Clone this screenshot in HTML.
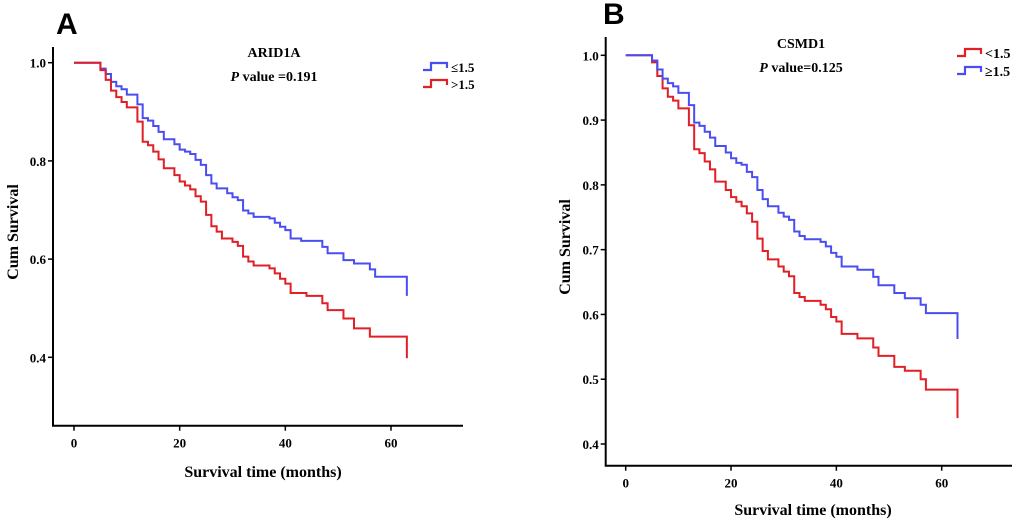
<!DOCTYPE html>
<html><head><meta charset="utf-8"><style>
body{margin:0;background:#fff;width:1020px;height:521px;overflow:hidden}
svg{display:block;font-family:"Liberation Serif",serif;font-weight:bold}
</style></head><body>
<svg id="chart" width="1020" height="521">
<text x="56" y="34" font-family="Liberation Sans" font-size="30" font-weight="bold">A</text>
<text x="603" y="24" font-family="Liberation Sans" font-size="30" font-weight="bold">B</text>
</svg>
<script>
const monthsA=[0,5,6,7,8,9,10,12,13,14,15,16,17,19,20,21,22,23,24,25,26,27,29,30,31,32,33,34,37,38,39,40,41,43,47,48,51,53,56,57,63];
const blueA=[1,0.988,0.977,0.961,0.952,0.946,0.935,0.915,0.887,0.882,0.871,0.859,0.844,0.834,0.823,0.819,0.814,0.802,0.792,0.771,0.754,0.744,0.734,0.726,0.72,0.699,0.693,0.686,0.683,0.674,0.666,0.659,0.642,0.637,0.625,0.612,0.598,0.591,0.579,0.564,0.525];
const monthsA2=[0,5,6,7,8,9,10,12,13,14,15,16,17,19,20,21,22,23,24,25,26,27,28,30,31,32,33,34,37,38,39,40,41,44,47,48,51,53,56,57,63];
const redA=[1,0.985,0.965,0.943,0.93,0.92,0.909,0.88,0.839,0.832,0.819,0.803,0.785,0.771,0.758,0.75,0.742,0.728,0.717,0.69,0.667,0.656,0.642,0.635,0.627,0.605,0.595,0.587,0.581,0.571,0.56,0.55,0.531,0.525,0.51,0.496,0.479,0.459,0.442,0.442,0.398];
const monthsB=[0,5,6,7,8,9,10,12,13,14,15,16,17,19,20,21,22,23,24,25,26,27,29,30,31,32,33,34,37,38,39,40,41,44,47,48,51,53,56,57,63];
const redB=[1,0.989,0.968,0.949,0.936,0.93,0.918,0.892,0.855,0.849,0.836,0.824,0.805,0.792,0.781,0.774,0.767,0.756,0.743,0.717,0.698,0.685,0.674,0.666,0.659,0.633,0.627,0.621,0.615,0.608,0.596,0.589,0.57,0.563,0.549,0.536,0.519,0.513,0.5,0.484,0.44];
const blueB=[1,0.992,0.978,0.964,0.957,0.952,0.942,0.923,0.896,0.891,0.882,0.873,0.86,0.85,0.841,0.834,0.831,0.82,0.812,0.792,0.778,0.767,0.757,0.751,0.746,0.728,0.721,0.716,0.712,0.705,0.695,0.689,0.674,0.669,0.658,0.645,0.633,0.625,0.615,0.602,0.562];
const xTicks=[0,20,40,60];
const yTicksA=[0.4,0.6,0.8,1.0];
const yTicksB=[0.4,0.5,0.6,0.7,0.8,0.9,1.0];
const NS="http://www.w3.org/2000/svg";
const svg=document.getElementById('chart');
function mk(tag,attrs,parent){const e=document.createElementNS(NS,tag);for(const k in attrs)e.setAttribute(k,attrs[k]);(parent||svg).appendChild(e);return e;}
function panel(p){
  const g=mk('g',{});
  
  
  const X=t=>p.x0+(t)*(p.x60-p.x0)/60;
  const Y=v=>p.y1+(1-v)*(p.yLow-p.y1)/(1-p.vLow);
  const ax=mk('path',{d:`M${p.ax},${p.top}V${p.base}H${p.right}`,stroke:'#000','stroke-width':2,fill:'none'},g);
  
  
  xTicks.forEach(t=>{mk('line',{x1:X(t),x2:X(t),y1:p.base,y2:p.base+5,stroke:'#000','stroke-width':1.5},g);
    const tx=mk('text',{x:X(t),y:p.base+22,'font-size':13,'text-anchor':'middle'},g);tx.textContent=t;
    
    });
  p.yt.forEach(v=>{mk('line',{x1:p.ax-5,x2:p.ax,y1:Y(v),y2:Y(v),stroke:'#000','stroke-width':1.5},g);
    const tx=mk('text',{x:p.ax-7,y:Y(v)+5,'font-size':13,'text-anchor':'end'},g);tx.textContent=v.toFixed(1);
    
    });
  p.series.forEach(s=>{
    let d=`M${X(s.t[0])},${Y(s.v[0])}`;
    for(let i=1;i<s.t.length;i++){d+=`H${X(s.t[i])}V${Y(s.v[i])}`;}
    const pa=mk('path',{d:d,stroke:s.c,'stroke-width':2,fill:'none'},g);
    
    
    const ly=p.legY[s.li];
    const lp=mk('path',{d:`M${p.legX},${ly+3}H${p.legX+8}V${ly-4}H${p.legX+24}V${ly+1}`,stroke:s.c,'stroke-width':2.2,fill:'none'},g);
    
    
    const lt=mk('text',{x:p.legX+28,y:ly+5,'font-size':p.legFs},g);lt.textContent=s.label;
    
    
  });
  const t1=mk('text',{x:p.tx,y:p.ty,'font-size':14,'text-anchor':'middle'},g);t1.textContent=p.title;
  
  
  const t2=mk('text',{x:p.tx,y:p.ty+24,'font-size':14,'text-anchor':'middle'},g);
  t2.innerHTML='<tspan font-style="italic">P</tspan> '+p.pv;
  
  
  const xl=mk('text',{x:p.xlx,y:p.xly,'font-size':16,'text-anchor':'middle'},g);xl.textContent='Survival time (months)';
  
  
  const yl=mk('text',{x:0,y:0,'font-size':16,'text-anchor':'middle',transform:`translate(${p.ylx},${p.yly}) rotate(-90)`},g);yl.textContent='Cum Survival';
  
  
}
panel({id:'arid1a',x0:74,x60:391,y1:62.7,yLow:357.3,vLow:0.4,ax:53,top:47,base:425.7,right:463,yt:yTicksA,
  series:[{t:monthsA,v:blueA,c:'#4a4ef0',label:'≤1.5',name:'series-le-1-5',li:0},{t:monthsA2,v:redA,c:'#e01f26',label:'>1.5',name:'series-gt-1-5',li:1}],
  legX:423,legY:[67,84],legFs:13,title:'ARID1A',pv:'value =0.191',tx:274,ty:57,xlx:263,xly:477,ylx:18,yly:232});
panel({id:'csmd1',x0:625.7,x60:941.7,y1:55.3,yLow:444,vLow:0.4,ax:605.7,top:37,base:465.7,right:1012,yt:yTicksB,
  series:[{t:monthsB,v:redB,c:'#e01f26',label:'<1.5',name:'series-lt-1-5',li:0},{t:monthsB,v:blueB,c:'#4a4ef0',label:'≥1.5',name:'series-ge-1-5',li:1}],
  legX:957,legY:[53,71],legFs:14,title:'CSMD1',pv:'value=0.125',tx:801,ty:48,xlx:813,xly:515,ylx:570,yly:247});
</script>
</body></html>
